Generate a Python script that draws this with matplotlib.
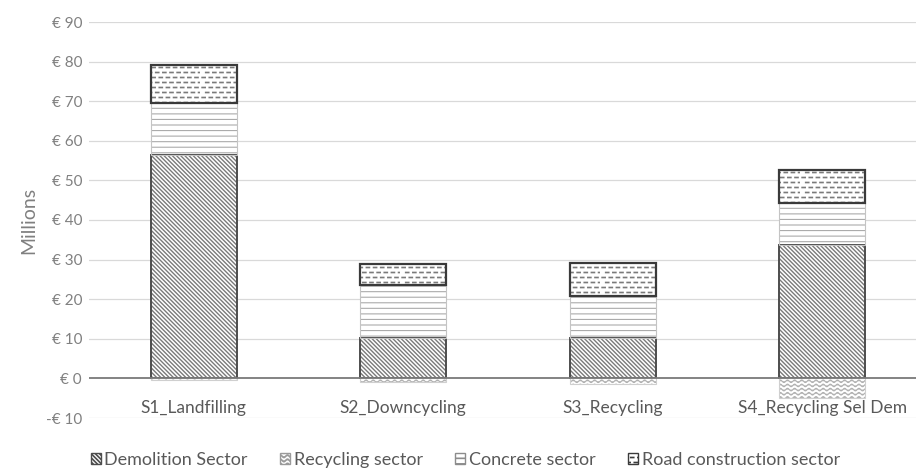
import warnings
import numpy as np
import matplotlib
matplotlib.use("Agg")
import matplotlib.pyplot as plt
import matplotlib.hatch as mhatch
from matplotlib.patches import Patch
from matplotlib.path import Path

warnings.filterwarnings("ignore")

# ---- data (EUR millions) ----
scenarios = ["S1_Landfilling", "S2_Downcycling", "S3_Recycling", "S4_Recycling Sel Dem"]
demolition = [56.4, 10.3, 10.3, 33.8]
recycling = [-0.4, -1.0, -1.3, -5.0]
concrete = [13.1, 13.4, 10.4, 10.5]
road = [9.6, 5.3, 8.5, 8.2]
series_names = ["Demolition Sector", "Recycling sector", "Concrete sector", "Road construction sector"]
y_ticks = list(range(-10, 91, 10))


# ---- extra hatch patterns: '~' wavy lines, ':' staggered short dashes ----
class WaveHatch(mhatch.HatchPatternBase):
    def __init__(self, hatch, density):
        self.num_lines = int(hatch.count("~") * density)
        self.steps = 140
        self.num_vertices = self.num_lines * (self.steps + 1)

    def set_vertices_and_codes(self, vertices, codes):
        n, k = self.num_lines, self.steps + 1
        xs = np.linspace(0.0, 1.0, k)
        for i in range(n):
            y0 = (i + 0.5) / n
            sl = slice(i * k, (i + 1) * k)
            vertices[sl, 0] = xs
            vertices[sl, 1] = y0 + 0.013 * np.sin(2 * np.pi * 14 * xs)
            codes[sl] = Path.LINETO
            codes[i * k] = Path.MOVETO


class DashHatch(mhatch.HatchPatternBase):
    def __init__(self, hatch, density):
        self.rows = int(hatch.count(":") * 5)
        self.per_row = 14
        self.num_vertices = self.rows * self.per_row * 2

    def set_vertices_and_codes(self, vertices, codes):
        j = 0
        for r in range(self.rows):
            y = (r + 0.5) / self.rows
            shift = 0.5 if r % 2 else 0.0
            for c in range(self.per_row):
                x0 = ((c + shift + 0.3) / self.per_row) % 1.0
                x1 = min(x0 + 0.03, 1.0)
                vertices[j] = (x0, y)
                vertices[j + 1] = (x1, y)
                codes[j] = Path.MOVETO
                codes[j + 1] = Path.LINETO
                j += 2


mhatch._hatch_types.extend([WaveHatch, DashHatch])

plt.rcParams["font.family"] = ["Lato", "DejaVu Sans"]

W, H, DPI = 916, 470, 100
fig = plt.figure(figsize=(W / DPI, H / DPI), dpi=DPI)
fig.patch.set_facecolor("white")

left_px, top_px, bottom_px = 89, 22, 418
slot_px = 209.5
ax = fig.add_axes([left_px / W, 1 - bottom_px / H, 1 - left_px / W, (bottom_px - top_px) / H])

x = np.arange(len(scenarios))
bw = 0.41

styles = [
    # hatch, hatch colour, hatch width, border colour, border width, legend colour
    ("\\" * 8, "#7a7a7a", 1.0, "#4d4d4d", 1.4, "#4d4d4d"),
    ("~~~~", "#b0b0b0", 0.8, "#cfcfcf", 0.8, "#9a9a9a"),
    ("---", "#ababab", 0.8, "#c4c4c4", 0.8, "#8c8c8c"),
    ("::::", "#7a7a7a", 1.2, "#3a3a3a", 1.6, "#3a3a3a"),
]

pos_base = np.zeros(len(scenarios))
neg_base = np.zeros(len(scenarios))
handles = []
for vals, name, (hatch, hcol, hlw, bcol, blw, lcol) in zip(
        [demolition, recycling, concrete, road], series_names, styles):
    vals = np.asarray(vals, dtype=float)
    base = np.where(vals >= 0, pos_base, neg_base)
    plt.rcParams["hatch.linewidth"] = hlw
    h = ax.bar(x, vals, bw, bottom=base, color="white", edgecolor=hcol,
               hatch=hatch, linewidth=0, zorder=2, label=name)
    for p in h.patches:
        if hasattr(p, "set_hatch_linewidth"):
            p.set_hatch_linewidth(hlw)
    ax.bar(x, vals, bw, bottom=base, fill=False, edgecolor=bcol,
           linewidth=blw, zorder=2.5)
    handles.append(Patch(facecolor="white", edgecolor=lcol, hatch=hatch,
                         linewidth=1.0, label=name))
    pos_base = pos_base + np.where(vals >= 0, vals, 0)
    neg_base = neg_base + np.where(vals < 0, vals, 0)

ax.set_xlim(-0.5, -0.5 + (W - left_px) / slot_px)
ax.set_ylim(-10, 90)
ax.set_yticks(y_ticks)
ax.set_yticklabels([("-€ %d" % -v) if v < 0 else ("€ %d" % v) for v in y_ticks],
                   color="#808080", fontsize=11)
ax.tick_params(axis="y", length=0, pad=5)
ax.set_xticks([])
for s in ax.spines.values():
    s.set_visible(False)

for v in y_ticks:
    if v != 0:
        ax.axhline(v, color="#d9d9d9", linewidth=0.9, zorder=1)
ax.axhline(0, color="#7a7a7a", linewidth=1.3, zorder=3)

for xi, lab in zip(x, scenarios):
    ax.annotate(lab, (xi, 0), xytext=(0, -21), textcoords="offset points",
                ha="center", va="center", color="#595959", fontsize=12.5, zorder=4)

ax.set_ylabel("Millions", color="#808080", fontsize=14, labelpad=6)

fig.legend(handles=handles, labels=series_names, loc="center",
           bbox_to_anchor=(0.508, 1 - 460 / H), ncol=4, frameon=False,
           fontsize=13, handlelength=0.55, handleheight=0.55,
           handletextpad=0.2, columnspacing=1.8, labelcolor="#595959",
           borderpad=0.0, borderaxespad=0.0)

fig.savefig("out.png", dpi=DPI, facecolor="white")
